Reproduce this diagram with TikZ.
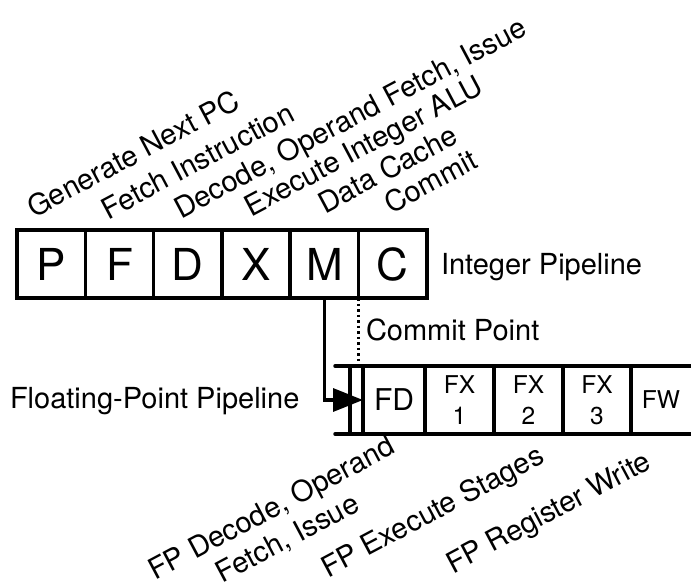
\documentclass[tikz,border=0pt]{standalone}
\usepackage{fontspec}
\setmainfont{TeX Gyre Heros}
\usetikzlibrary{arrows.meta}
\begin{document}
\begin{tikzpicture}[x=1pt,y=-1pt,
  stage/.style={draw, line width=3.5pt, minimum size=68.3pt, inner sep=0pt, outer sep=0pt, font=\fontsize{44}{44}\selectfont},
  lbl/.style={font=\fontsize{29}{34}\selectfont, inner sep=0pt, outer sep=0pt},
  tlbl/.style={lbl, rotate=28, anchor=base west},
  fpst/.style={inner sep=0pt, outer sep=0pt, minimum height=68pt, align=center},
  fpbig/.style={fpst, font=\fontsize{30}{31}\selectfont},
  fpsmall/.style={fpst, font=\fontsize{24.5}{31}\selectfont},
  thickline/.style={line width=3.5pt},
  dotline/.style={line width=2.5pt, dash pattern=on 2.5pt off 3pt}
]
\useasboundingbox (0,0) rectangle (691,586);

% integer pipeline
\node[stage] (p) at (51.15,264) {P};
\node[stage] (f) at (119.45,264) {F};
\node[stage] (d) at (187.75,264) {D};
\node[stage] (x) at (256.05,264) {X};
\node[stage] (m) at (324.35,264) {M};
\node[stage] (c) at (392.65,264) {C};

\node[lbl, anchor=base west] (intlbl) at (441,274) {Integer Pipeline};

% top labels
\node[tlbl] (lp) at (34,218) {Generate Next PC};
\node[tlbl] (lf) at (108,220) {Fetch Instruction};
\node[tlbl] (ld) at (181,219) {Decode, Operand Fetch, Issue};
\node[tlbl] (lx) at (251,217) {Execute Integer ALU};
\node[tlbl] (lm) at (325,214) {Data Cache};
\node[tlbl] (lc) at (391,214) {Commit};

% FP pipeline stages
\node[fpbig, minimum width=62pt] (fd) at (394,400) {FD};
\node[fpsmall, minimum width=69pt] (fx1) at (459.5,400) {FX\\1};
\node[fpsmall, minimum width=69pt] (fx2) at (528.5,400) {FX\\2};
\node[fpsmall, minimum width=68pt] (fx3) at (597,400) {FX\\3};
\node[fpsmall, minimum width=60pt] (fw) at (661,400) {FW};

\coordinate (tl) at (335,366);
\coordinate (tr) at (694,366);
\coordinate (bl) at (335,434);
\coordinate (br) at (694,434);
\coordinate (rt) at (350,366);
\coordinate (rb) at (350,434);

\draw[thickline, line cap=round] (tl) -- (tr);
\draw[thickline, line cap=round] (bl) -- (br);
\draw[thickline] (rt) -- (rb);
\draw[thickline] (fd.north west) -- (fd.south west);
\draw[thickline] (fd.north east) -- (fd.south east);
\draw[thickline] (fx1.north east) -- (fx1.south east);
\draw[thickline] (fx2.north east) -- (fx2.south east);
\draw[thickline] (fx3.north east) -- (fx3.south east);

% connectors
\draw[thickline, -{Triangle[length=30pt,width=23pt]}] (m.south) |- (fd.west);
\draw[dotline] (c.south west) -- (c.south west |- tl);

\node[lbl, anchor=base west] (cp) at (366,340) {Commit Point};
\node[lbl, anchor=base west] (fpl) at (10,408) {Floating-Point Pipeline};

% bottom labels
\node[lbl, rotate=28, align=center] (lfd) at (280,524) {FP Decode, Operand\\Fetch, Issue};
\node[lbl, rotate=28, anchor=base west] (lfx) at (328,578) {FP Execute Stages};
\node[lbl, rotate=28, anchor=base west] (lfw) at (453,574) {FP Register Write};
\end{tikzpicture}
\end{document}
